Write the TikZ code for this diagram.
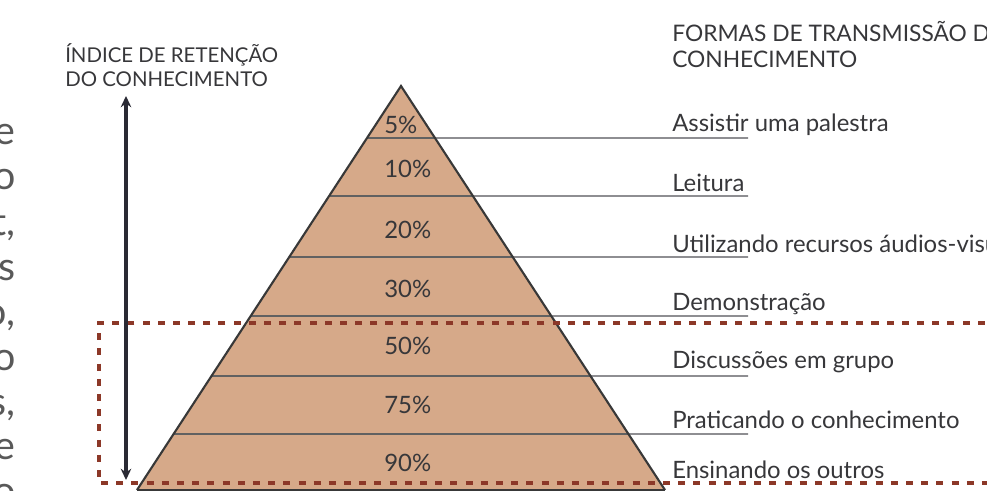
\documentclass[tikz,border=0pt]{standalone}
\usepackage{fontspec}
\setmainfont{Lato}
\usetikzlibrary{positioning, arrows.meta, calc}

\definecolor{pyrfill}{RGB}{214,169,137}
\definecolor{inkgray}{RGB}{55,55,58}
\definecolor{rulegray}{RGB}{142,142,146}
\definecolor{dotred}{RGB}{140,56,40}
\definecolor{arrowink}{RGB}{42,42,52}

\begin{document}
\begin{tikzpicture}[
    x=0.025cm, y=-0.025cm,
    every node/.style={text=inkgray, inner sep=0pt},
    lbl/.style={anchor=base west, font=\fontsize{17}{20}\selectfont},
    pct/.style={anchor=west, font=\fontsize{17}{20}\selectfont},
    head/.style={anchor=base west, font=\fontsize{16.2}{19}\selectfont},
    headsm/.style={anchor=base west, font=\fontsize{14.5}{17}\selectfont},
    frag/.style={anchor=base east, text=black!65, font=\fontsize{28}{32}\selectfont},
    band/.style={draw=black!62, line width=1pt},
    tail/.style={draw=rulegray, line width=1.3pt},
    edge/.style={draw=black!78, line width=1.5pt},
    frame/.style={draw=dotred, line width=2.4pt, dash pattern=on 5pt off 5.8pt},
    arr/.style={{Stealth[length=8pt,width=7.5pt]}-{Stealth[length=8pt,width=7.5pt]}, line width=3.3pt, draw=arrowink}
]
\useasboundingbox (0,0) rectangle (987,491);
\clip (0,0) rectangle (987,491);

% text cut off at the left border
\foreach \w/\yy in {e/145, o/190, {t,}/236, s/281, {o,}/326, o/370, {s,}/415, e/459, o/504}
  \node[frag] at (16,\yy) {\w};

% pyramid
\coordinate (apex) at (401,86);
\coordinate (bl) at (137,490);
\coordinate (br) at (665,490);
\fill[pyrfill] (apex) -- (br) -- (bl) -- cycle;

\foreach \yy [count=\i] in {138, 196, 257, 316, 376, 434} {
  \pgfmathsetmacro\t{(\yy-86)/404}
  \coordinate (w\i) at ($(apex)!\t!(bl)$);
  \coordinate (m\i) at ($(apex)!\t!(br)$);
  \coordinate (u\i) at (748,\yy);
  \draw[band] (w\i) -- (m\i);
  \draw[tail] (m\i) -- (u\i);
}
\draw[edge] (bl) -- (apex) -- (br);
\draw[edge] (bl) -- (br);

% percentages
\node[pct] (p1) at (384,125) {5\%};
\node[pct] (p2) at (384,169) {10\%};
\node[pct] (p3) at (384,230) {20\%};
\node[pct] (p4) at (384,289) {30\%};
\node[pct] (p5) at (384,346) {50\%};
\node[pct] (p6) at (384,405) {75\%};
\node[pct] (p7) at (384,463) {90\%};

% headers
\node[headsm] (hl1) at (65,63) {ÍNDICE DE RETENÇÃO};
\node[headsm] (hl2) at (65,87) {DO CONHECIMENTO};
\node[head] (hr1) at (672,42) {FORMAS DE TRANSMISSÃO DO};
\node[head] (hr2) at (672,68) {CONHECIMENTO};

% forms
\node[lbl] (f1) at (672,132) {Assistir uma palestra};
\node[lbl] (f2) at (672,192) {Leitura};
\node[lbl] (f3) at (672,253) {Utilizando recursos áudios-visuais};
\node[lbl] (f4) at (672,311) {Demonstração};
\node[lbl] (f5) at (672,369) {Discussões em grupo};
\node[lbl] (f6) at (672,428) {Praticando o conhecimento};
\node[lbl] (f7) at (672,478) {Ensinando os outros};

% highlighted zone
\coordinate (ftr) at (1000,323);
\coordinate (ftl) at (99,323);
\coordinate (fbl) at (99,483);
\coordinate (fbr) at (1000,483);
\draw[frame] (ftr) -- (ftl) -- (fbl) -- (fbr);

% retention axis
\coordinate (atop) at (126,96);
\coordinate (abot) at (126,480);
\draw[arr] (atop) -- (abot);
\end{tikzpicture}
\end{document}
